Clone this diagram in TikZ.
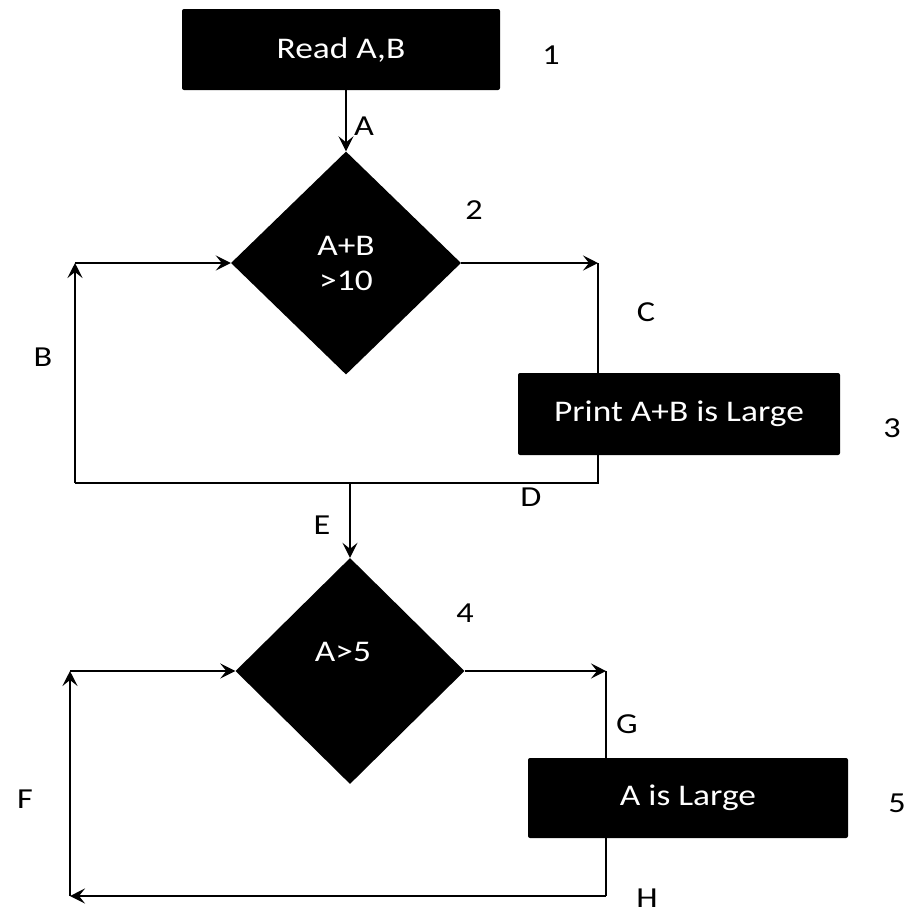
\documentclass[tikz,border=0pt]{standalone}
\usepackage{fontspec}
\setmainfont[FakeStretch=1.18]{Carlito}
\usetikzlibrary{shapes.geometric,arrows.meta}
\begin{document}
\begin{tikzpicture}[x=1pt,y=-1pt,
  box/.style={fill=black,text=white,rounded corners=2pt,inner sep=0pt,font=\fontsize{30}{36}\selectfont},
  dia/.style={diamond,fill=black,text=white,inner sep=0pt,align=center,font=\fontsize{30}{35}\selectfont},
  wtxt/.style={text=white,inner sep=0pt,font=\fontsize{30}{36}\selectfont},
  lbl/.style={inner sep=0pt,font=\fontsize{29}{34}\selectfont},
  flow/.style={line width=2pt,-{Stealth[length=15pt,width=15pt,inset=6pt]}},
  ln/.style={line width=2pt}]
\useasboundingbox (0,0) rectangle (910,914);
% nodes
\node[box,minimum width=318pt,minimum height=81pt] (b1) at (341,49.5) {Read A,B};
\node[dia,minimum width=230pt,minimum height=223pt] (d1) at (346,263) {A+B\\>10};
\node[box,minimum width=322pt,minimum height=82pt] (b3) at (679,414) {Print A+B is Large};
\node[dia,minimum width=229pt,minimum height=226pt] (d2) at (350,671) {};
\node[wtxt] (t4) at (343,652) {A>5};
\node[box,minimum width=320pt,minimum height=80pt] (b5) at (688,798) {A is Large};
% coordinates
\coordinate (cR1) at (598,263);
\coordinate (cD) at (598,483);
\coordinate (cBL) at (75,483);
\coordinate (cB) at (75,263);
\coordinate (cR2) at (606,671);
\coordinate (cH) at (606,896);
\coordinate (cHL) at (70,896);
\coordinate (cF) at (70,671);
% connectors
\draw[flow] (b1.south -| d1.north) -- (d1.north);
\draw[flow] (d1.east) -- (cR1);
\draw[ln] (cR1) -- (b3.north -| cR1);
\draw[ln] (b3.south -| cR1) -- (cD) -- (cBL);
\draw[flow] (cBL) -- (cB);
\draw[flow] (cB) -- (d1.west);
\draw[flow] (cBL -| d2.north) -- (d2.north);
\draw[flow] (d2.east) -- (cR2);
\draw[ln] (cR2) -- (b5.north -| cR2);
\draw[ln] (b5.south -| cR2) -- (cH);
\draw[flow] (cH) -- (cHL);
\draw[flow] (cHL) -- (cF);
\draw[flow] (cF) -- (d2.west);
% labels
\node[lbl] (l1) at (551,55) {1};
\node[lbl] (lA) at (364,126) {A};
\node[lbl] (l2) at (474,210) {2};
\node[lbl] (lC) at (646,312) {C};
\node[lbl] (l3) at (892,428) {3};
\node[lbl] (lB) at (43,357) {B};
\node[lbl] (lD) at (531,497) {D};
\node[lbl] (lE) at (322,525) {E};
\node[lbl] (l4) at (465,613) {4};
\node[lbl] (lG) at (627,724) {G};
\node[lbl] (l5) at (897,803) {5};
\node[lbl] (lF) at (25,799) {F};
\node[lbl] (lH) at (647,898) {H};
\end{tikzpicture}
\end{document}
